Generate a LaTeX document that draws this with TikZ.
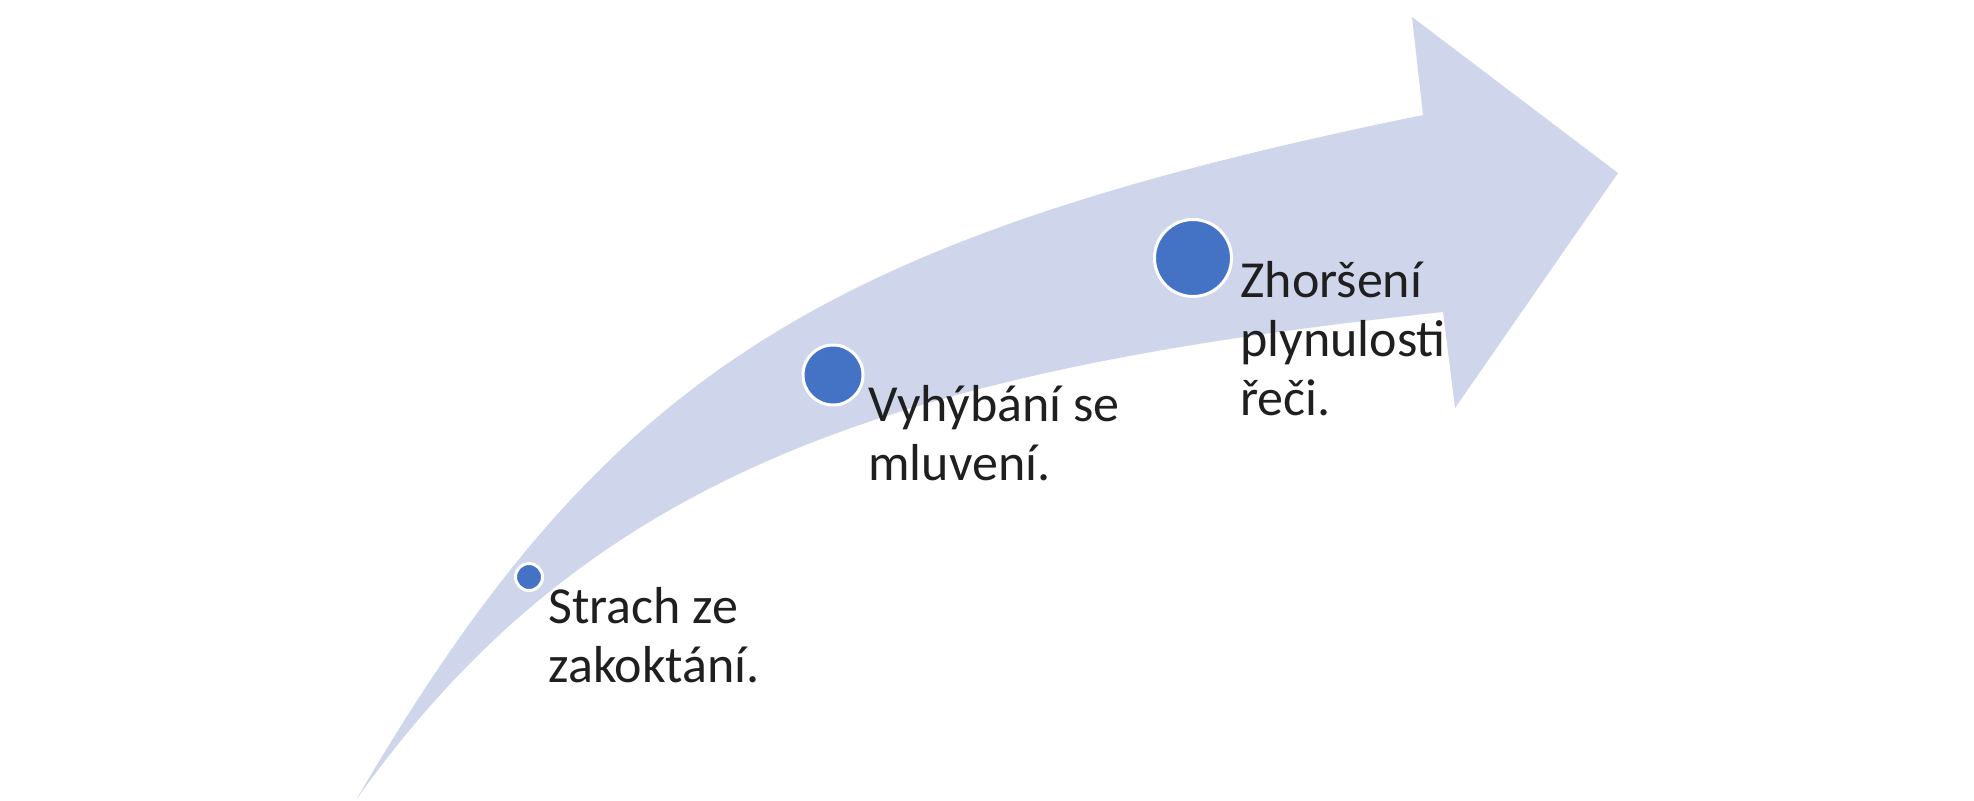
\documentclass[tikz,border=0pt]{standalone}
\usepackage{fontspec}
\setmainfont{Carlito}
\usetikzlibrary{positioning}
\definecolor{band}{RGB}{207,213,234}
\definecolor{dot}{RGB}{68,114,196}

\begin{document}
\begin{tikzpicture}[x=0.5pt, y=0.5pt]
	\useasboundingbox (0,0) rectangle (1974,800);
	\fill[band] (356,0) .. controls (604,424) and (817,561) .. (1423,685)
		-- (1412,783) -- (1618,627) -- (1455,392) -- (1443,488)
		.. controls (900,430) and (590,330) .. (356,0) -- cycle;

	\begin{scope}[every node/.style={circle, fill=dot, draw=white, line width=1.5pt, inner sep=0pt}]
		\node[minimum size=13.5pt] (1) at (529,223) {};
		\node[minimum size=30pt] (2) at (833,425) {};
		\node[minimum size=38.5pt] (3) at (1193,542) {};
	\end{scope}

	\begin{scope}[every node/.style={anchor=base west, align=left, inner sep=0pt,
	              text=black!88, font=\fontsize{26}{29.5}\selectfont}]
		\node (t1) at (548,118) {Strach ze\\zakoktání.};
		\node (t2) at (868,320) {Vyhýbání se\\mluvení.};
		\node (t3) at (1240,385) {Zhoršení\\plynulosti\\řeči.};
	\end{scope}
\end{tikzpicture}
\end{document}
